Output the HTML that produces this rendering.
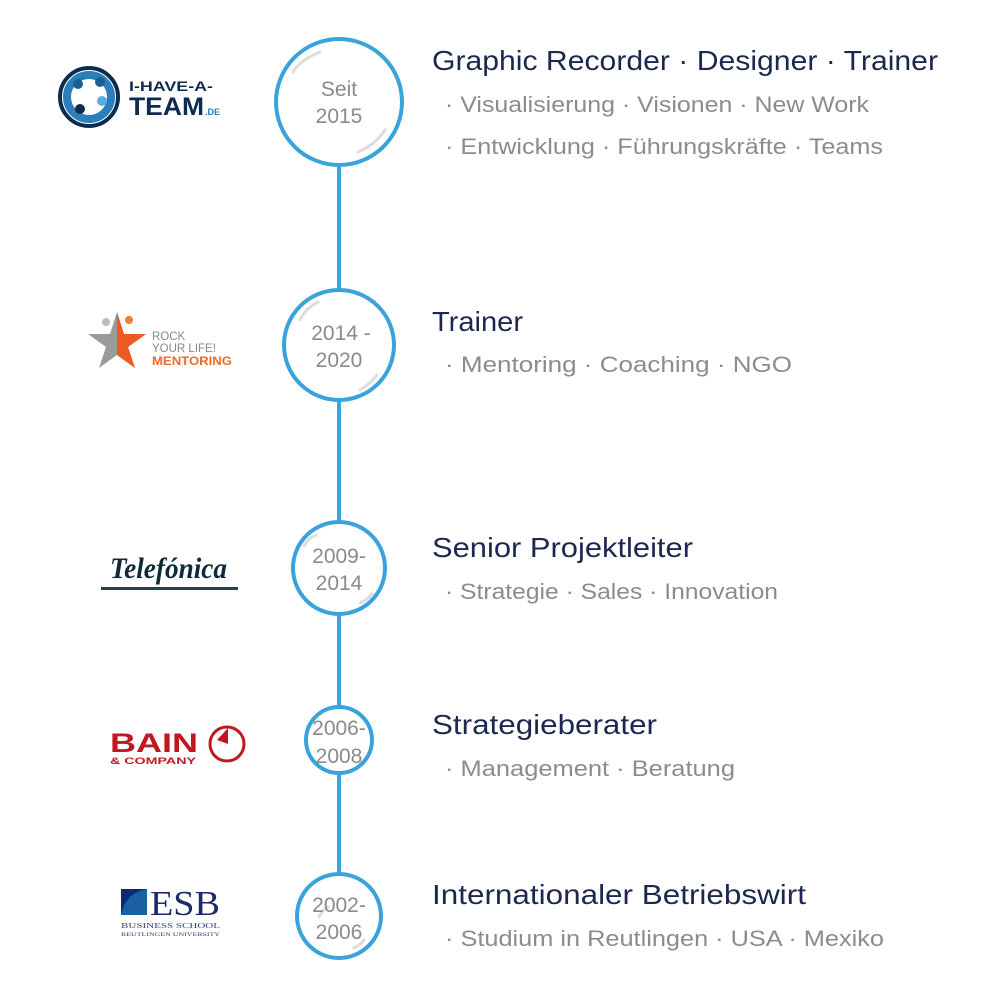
<!DOCTYPE html>
<html><head><meta charset="utf-8"><style>
html,body{margin:0;padding:0;background:#fff}
svg{display:block}
.t{font-family:"Liberation Sans",sans-serif;font-size:28px;fill:#1d2850}
.s{font-family:"Liberation Sans",sans-serif;font-size:22px;fill:#8c8c8c}
.c{font-family:"Liberation Sans",sans-serif;font-size:21px;fill:#8a8a8a;text-anchor:middle}
</style></head><body>
<svg width="1000" height="1000" viewBox="0 0 1000 1000">
<line x1="339" y1="160" x2="339" y2="880" stroke="#3aa3dc" stroke-width="4"/>
<g fill="#fff" stroke="#3aa3dc" stroke-width="4">
<circle cx="339" cy="102" r="63"/>
<circle cx="339" cy="345" r="55"/>
<circle cx="339" cy="568" r="46"/>
<circle cx="339" cy="740" r="33"/>
<circle cx="339" cy="916" r="42"/>
</g>
<g fill="none" stroke="#ddd" stroke-width="3" stroke-linecap="round">
<path d="M293 72 Q300 60 320 52"/><path d="M385 130 Q375 145 358 152"/>
<path d="M300 320 Q306 308 318 302"/><path d="M377 375 Q370 384 360 390"/>
<path d="M304 546 Q308 538 316 535"/><path d="M372 594 Q367 600 360 603"/>
<path d="M319 917 Q322 910 328 907"/><path d="M364 940 Q360 945 354 948"/>
</g>
<text class="c" x="339" y="96">Seit</text><text class="c" x="339" y="123">2015</text>
<text class="c" x="341" y="340">2014 -</text><text class="c" x="339" y="367">2020</text>
<text class="c" x="339" y="563">2009-</text><text class="c" x="339" y="590">2014</text>
<text class="c" x="339" y="735">2006-</text><text class="c" x="339" y="763">2008</text>
<text class="c" x="339" y="912">2002-</text><text class="c" x="339" y="939">2006</text>

<text class="t" x="432" y="70" textLength="506" lengthAdjust="spacingAndGlyphs">Graphic Recorder · Designer · Trainer</text>
<text class="s" x="445" y="112" textLength="424" lengthAdjust="spacingAndGlyphs">· Visualisierung · Visionen · New Work</text>
<text class="s" x="445" y="154" textLength="438" lengthAdjust="spacingAndGlyphs">· Entwicklung · Führungskräfte · Teams</text>
<text class="t" x="432" y="331" textLength="91" lengthAdjust="spacingAndGlyphs">Trainer</text>
<text class="s" x="445" y="372" textLength="347" lengthAdjust="spacingAndGlyphs">· Mentoring · Coaching ·  NGO</text>
<text class="t" x="432" y="557" textLength="261" lengthAdjust="spacingAndGlyphs">Senior Projektleiter</text>
<text class="s" x="445" y="599" textLength="333" lengthAdjust="spacingAndGlyphs">· Strategie · Sales · Innovation</text>
<text class="t" x="432" y="734" textLength="225" lengthAdjust="spacingAndGlyphs">Strategieberater</text>
<text class="s" x="445" y="776" textLength="290" lengthAdjust="spacingAndGlyphs">· Management · Beratung</text>
<text class="t" x="432" y="904" textLength="374" lengthAdjust="spacingAndGlyphs">Internationaler Betriebswirt</text>
<text class="s" x="445" y="946" textLength="439" lengthAdjust="spacingAndGlyphs">· Studium in Reutlingen · USA · Mexiko</text>

<!-- I-HAVE-A-TEAM logo -->
<circle cx="89" cy="97" r="29" fill="none" stroke="#0d2b4e" stroke-width="4"/>
<circle cx="89" cy="97" r="22" fill="none" stroke="#2a7fb8" stroke-width="8"/>
<circle cx="78" cy="84" r="5" fill="#1b5f93"/><circle cx="100" cy="82" r="5" fill="#1b5f93"/>
<circle cx="102" cy="101" r="5" fill="#5aaee0"/><circle cx="80" cy="109" r="5" fill="#0d2b4e"/>
<text x="129" y="91" font-family="Liberation Sans,sans-serif" font-weight="bold" font-size="14" fill="#0d2b4e" textLength="84" lengthAdjust="spacingAndGlyphs">I-HAVE-A-</text>
<text x="129" y="115" font-family="Liberation Sans,sans-serif" font-weight="bold" font-size="25" fill="#0d2b4e" textLength="75" lengthAdjust="spacingAndGlyphs">TEAM</text>
<text x="205" y="115" font-family="Liberation Sans,sans-serif" font-weight="bold" font-size="9" fill="#2a7fb8">.DE</text>

<!-- Rock your life -->
<polygon points="117,312 124,334 146,334 128,347 135,368 117,355 99,368 106,347 88,334 110,334" fill="#9a9a9a"/>
<polygon points="117,312 124,334 146,334 128,347 135,368 117,355" fill="#ee5a24"/>
<circle cx="106" cy="322" r="4" fill="#bbb"/><circle cx="129" cy="320" r="4" fill="#f08030"/>
<g font-family="Liberation Sans,sans-serif" font-size="11.5">
<text x="152" y="340" fill="#888">ROCK</text>
<text x="152" y="352" fill="#888">YOUR LIFE!</text>
<text x="152" y="365" fill="#f06a2a" font-weight="bold" textLength="80" lengthAdjust="spacingAndGlyphs">MENTORING</text>
</g>

<!-- Telefonica -->
<text x="110" y="578" font-family="Liberation Serif,serif" font-style="italic" font-weight="bold" font-size="30" fill="#0e2a3a" textLength="117" lengthAdjust="spacingAndGlyphs">Telefónica</text>
<rect x="101" y="587" width="137" height="3" fill="#2c3e4a"/>

<!-- Bain -->
<text x="110" y="752" font-family="Liberation Sans,sans-serif" font-weight="bold" font-size="27" fill="#c0181f" textLength="88" lengthAdjust="spacingAndGlyphs">BAIN</text>
<text x="110" y="764" font-family="Liberation Sans,sans-serif" font-weight="bold" font-size="9" fill="#c0181f" textLength="86" lengthAdjust="spacingAndGlyphs">&amp; COMPANY</text>
<circle cx="227" cy="744" r="17" fill="none" stroke="#c0181f" stroke-width="3"/>
<polygon points="228,728 228,744 217,740" fill="#c0181f"/>

<!-- ESB -->
<rect x="121" y="889" width="26" height="26" fill="#1b5fa4"/>
<path d="M121 915 Q125 893 147 889 L147 889 L121 889Z" fill="#0d2b6b"/>
<text x="150" y="915" font-family="Liberation Serif,serif" font-size="35" fill="#1c2a6b" textLength="70" lengthAdjust="spacingAndGlyphs">ESB</text>
<text x="121" y="928" font-family="Liberation Serif,serif" font-size="7" fill="#33407a" textLength="99" lengthAdjust="spacingAndGlyphs">BUSINESS SCHOOL</text>
<text x="121" y="936" font-family="Liberation Serif,serif" font-size="5.5" fill="#33407a" textLength="99" lengthAdjust="spacingAndGlyphs">REUTLINGEN UNIVERSITY</text>
</svg>
</body></html>
